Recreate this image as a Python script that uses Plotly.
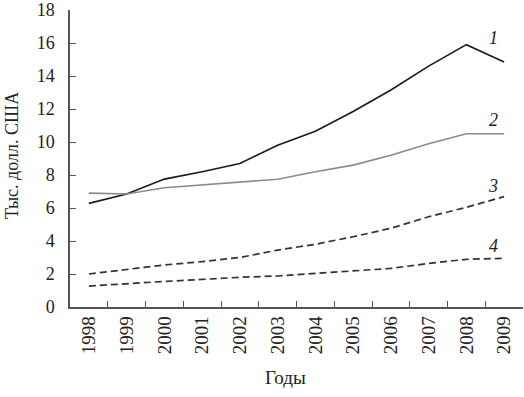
import plotly.graph_objects as go

years = ["1998", "1999", "2000", "2001", "2002", "2003", "2004", "2005", "2006", "2007", "2008", "2009"]
series1 = [6.28, 6.85, 7.75, 8.2, 8.7, 9.8, 10.65, 11.85, 13.15, 14.6, 15.9, 14.85]
series2 = [6.9, 6.85, 7.23, 7.4, 7.56, 7.74, 8.2, 8.6, 9.2, 9.9, 10.5, 10.5]
series3 = [2.0, 2.28, 2.55, 2.75, 3.0, 3.45, 3.8, 4.26, 4.77, 5.47, 6.04, 6.69]
series4 = [1.27, 1.43, 1.55, 1.67, 1.8, 1.88, 2.04, 2.18, 2.34, 2.64, 2.89, 2.95]
labels = ["1", "2", "3", "4"]
y_ticks = [0, 2, 4, 6, 8, 10, 12, 14, 16, 18]

fig = go.Figure()
styles = [
    dict(color="#1a1a1a", width=1.6, dash="solid"),
    dict(color="#8a8a8a", width=1.6, dash="solid"),
    dict(color="#333333", width=1.7, dash="7px,4px"),
    dict(color="#333333", width=1.7, dash="7px,4px"),
]
all_series = [series1, series2, series3, series4]
for s, st in zip(all_series, styles):
    fig.add_trace(go.Scatter(x=years, y=s, mode="lines", line=st, showlegend=False, hoverinfo="skip"))

label_offsets = [1.45, 0.83, 0.64, 0.75]
last_idx = len(years) - 1
for lab, s, off in zip(labels, all_series, label_offsets):
    fig.add_annotation(x=last_idx, y=s[-1] + off, text="<i>" + lab + "</i>", showarrow=False,
                       xshift=-11, yanchor="middle",
                       font=dict(family="Liberation Serif", size=18, color="#222222"))

fig.add_annotation(x=-0.129, y=0.51, xref="paper", yref="paper", text="Тыс. долл. США",
                   textangle=-90, showarrow=False, xanchor="center",
                   font=dict(family="Liberation Serif", size=18, color="#222222"))
fig.add_annotation(x=0.475, y=-0.239, xref="paper", yref="paper", text="Годы",
                   showarrow=False, yanchor="middle", xanchor="center",
                   font=dict(family="Liberation Serif", size=19, color="#222222"))

fig.update_layout(
    width=524, height=397,
    margin=dict(l=70, r=1, t=10, b=90, autoexpand=False),
    paper_bgcolor="white", plot_bgcolor="white",
    xaxis=dict(
        type="category", tickson="boundaries", ticks="inside", ticklen=6,
        tickcolor="#555555", tickwidth=1, automargin=False,
        showline=True, linecolor="#555555", linewidth=1.5,
        showgrid=False, zeroline=False, tickangle=-90,
        tickfont=dict(family="Liberation Serif", size=19, color="#222222"),
        range=[-0.5, 11.5],
    ),
    yaxis=dict(
        range=[0, 18], tickvals=y_ticks, ticks="inside", ticklen=6,
        tickcolor="#555555", tickwidth=1, automargin=False,
        showline=True, linecolor="#555555", linewidth=1.5,
        showgrid=False, zeroline=False, ticklabelstandoff=10,
        tickfont=dict(family="Liberation Serif", size=18, color="#222222"),
    ),
)

fig.write_html("out.html", config={"displayModeBar": False},
               post_script="document.body.style.margin='0';")
